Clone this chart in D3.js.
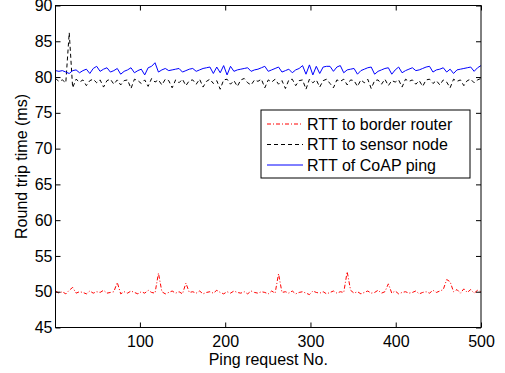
<!DOCTYPE html>
<html>
<head>
<meta charset="utf-8">
<script src="https://cdn.jsdelivr.net/npm/d3@7/dist/d3.min.js"></script>
<style>
  html, body { margin: 0; padding: 0; background: #fff; }
  svg { display: block; font-family: "Liberation Sans", Arial, sans-serif; }
</style>
</head>
<body>
<div id="chart"></div>
<script>
// RTT readings sampled about every 4th ping request
const coapRtt = [
  80.9, 80.8, 80.9, 80.7, 80.5, 80.9, 81.0, 80.6, 80.9, 81.1, 80.5, 81.2, 81.5, 80.8, 81.1, 81.3,
  80.7, 80.9, 81.2, 80.4, 80.8, 81.0, 81.3, 80.6, 80.9, 81.1, 80.3, 81.3, 81.5, 82.0, 80.7, 81.0,
  81.2, 80.9, 81.0, 81.1, 81.2, 80.7, 80.9, 81.1, 81.2, 80.8, 81.0, 81.2, 81.3, 81.4, 80.5, 81.4,
  80.6, 81.6, 80.3, 81.5, 80.8, 81.0, 81.1, 81.2, 81.3, 80.8, 81.0, 81.1, 81.3, 81.5, 80.8, 81.0,
  81.2, 81.4, 80.7, 80.9, 81.1, 80.6, 81.0, 81.2, 81.6, 80.4, 81.7, 80.3, 81.5, 80.5, 81.4, 81.5,
  81.5, 80.8, 81.4, 81.6, 80.6, 81.0, 81.1, 81.2, 80.4, 80.9, 81.1, 81.3, 81.4, 80.4, 80.8, 81.0,
  81.2, 81.3, 80.4, 81.0, 81.4, 80.6, 80.9, 81.1, 81.3, 80.9, 81.0, 81.2, 81.4, 81.5, 80.7, 81.0,
  81.1, 81.3, 80.7, 81.1, 80.5, 81.0, 81.1, 81.2, 81.3, 81.4, 80.8, 81.3, 81.6
];
const sensorRtt = [
  79.8, 79.4, 79.6, 79.2, 86.2, 78.5, 79.7, 79.3, 79.6, 78.8, 79.5, 79.7, 79.2, 79.6, 78.6, 79.5,
  79.7, 79.0, 79.6, 78.9, 79.5, 79.6, 78.4, 79.7, 79.5, 79.1, 79.6, 78.7, 79.8, 79.3, 79.6, 78.9,
  79.7, 79.5, 78.5, 79.6, 79.2, 79.7, 78.8, 79.5, 79.6, 79.0, 79.7, 78.6, 79.4, 79.7, 79.1, 79.5,
  78.3, 79.6, 79.7, 79.0, 79.5, 78.7, 79.6, 79.8, 79.2, 78.9, 79.6, 79.4, 79.7, 78.5, 79.6, 79.3,
  79.7, 79.0, 79.5, 78.4, 79.6, 79.7, 78.8, 79.5, 79.6, 78.3, 79.7, 79.2, 79.6, 78.6, 79.5, 79.7,
  79.1, 78.5, 79.6, 79.4, 79.7, 78.9, 79.6, 79.5, 78.7, 79.6, 79.2, 79.7, 78.4, 79.5, 79.6, 79.0,
  79.7, 78.8, 79.5, 79.3, 79.6, 78.6, 79.7, 79.4, 79.6, 79.0, 79.5, 78.7, 79.6, 79.7, 79.1, 79.5,
  78.9, 79.6, 79.3, 78.5, 79.7, 79.4, 79.6, 78.8, 79.5, 79.7, 79.2, 79.6, 79.8
];
const routerRtt = [
  50.1, 49.8, 50.0, 49.7, 50.2, 50.6, 49.8, 50.0, 49.9, 49.7, 50.1, 49.8, 50.0, 49.9, 50.2, 49.8,
  49.9, 50.0, 51.3, 49.7, 50.0, 49.8, 50.1, 49.9, 49.7, 50.0, 49.8, 50.2, 49.9, 49.8, 52.6, 50.0,
  49.7, 49.9, 50.1, 49.8, 50.0, 49.7, 51.2, 49.9, 50.0, 49.8, 50.1, 49.7, 49.9, 50.0, 49.8, 50.2,
  49.9, 49.7, 50.0, 49.8, 50.1, 49.9, 49.8, 50.0, 49.7, 50.1, 49.9, 49.8, 50.0, 49.9, 49.7, 50.1,
  49.8, 52.5, 49.9, 50.0, 49.8, 50.1, 49.7, 49.9, 50.0, 49.8, 49.6, 50.1, 49.9, 49.8, 50.0, 49.7,
  49.9, 50.1, 49.8, 50.0, 49.9, 52.8, 50.2, 49.8, 50.0, 49.7, 49.9, 50.1, 49.8, 49.9, 50.2, 49.8,
  50.0, 51.1, 49.8, 50.1, 49.7, 49.9, 50.0, 49.8, 49.9, 50.1, 49.7, 49.9, 50.0, 49.8, 50.2, 49.9,
  50.1, 50.3, 51.7, 51.4, 50.0, 50.3, 49.8, 50.4, 49.9, 50.3, 49.8, 50.2, 50.0
];

const xTicks = [100, 200, 300, 400, 500];
const yTicks = [45, 50, 55, 60, 65, 70, 75, 80, 85, 90];

const series = [
  { label: 'RTT to border router', values: routerRtt, color: '#ff0000', dash: '4,2,1,2' },
  { label: 'RTT to sensor node', values: sensorRtt, color: '#000000', dash: '4,3' },
  { label: 'RTT of CoAP ping', values: coapRtt, color: '#0000ff', dash: null }
];

const width = 505, height = 373;
const margin = { top: 5.5, right: 24, bottom: 45.5, left: 55.5 };
const innerW = width - margin.left - margin.right;
const innerH = height - margin.top - margin.bottom;
const fontSize = '16px';

const svg = d3.select('#chart').append('svg')
  .attr('width', width)
  .attr('height', height);

const g = svg.append('g').attr('transform', `translate(${margin.left},${margin.top})`);

const x = d3.scaleLinear().domain([1, 500]).range([0, innerW]);
const y = d3.scaleLinear().domain([45, 90]).range([innerH, 0]);

g.append('defs').append('clipPath').attr('id', 'plot')
  .append('rect').attr('width', innerW).attr('height', innerH);

// ping number for each sample, spread evenly over 1..500
const pingOf = (i, n) => 1 + i * 499 / (n - 1);

const line = d3.line()
  .x(d => x(d.ping))
  .y(d => y(d.rtt));

series.forEach(s => {
  const pts = s.values.map((v, i) => ({ ping: pingOf(i, s.values.length), rtt: v }));
  g.append('path')
    .datum(pts)
    .attr('clip-path', 'url(#plot)')
    .attr('fill', 'none')
    .attr('stroke', s.color)
    .attr('stroke-width', 1)
    .attr('stroke-dasharray', s.dash)
    .attr('d', line);
});

// axes, ticks pointing inward like matlab
const tickLen = 5;
const styleAxis = sel => {
  sel.select('.domain').remove();
  sel.selectAll('line').attr('stroke', '#000');
  sel.selectAll('text').style('font-size', fontSize).attr('fill', '#000');
};

g.append('g')
  .attr('transform', `translate(0,${innerH})`)
  .call(d3.axisBottom(x).tickValues(xTicks).tickSizeInner(-tickLen).tickSizeOuter(0).tickPadding(8))
  .call(styleAxis);
g.append('g')
  .call(d3.axisTop(x).tickValues(xTicks).tickSizeInner(-tickLen).tickSizeOuter(0).tickFormat(''))
  .call(styleAxis);
g.append('g')
  .call(d3.axisLeft(y).tickValues(yTicks).tickSizeInner(-tickLen).tickSizeOuter(0).tickPadding(3))
  .call(styleAxis);
g.append('g')
  .attr('transform', `translate(${innerW},0)`)
  .call(d3.axisRight(y).tickValues(yTicks).tickSizeInner(-tickLen).tickSizeOuter(0).tickFormat(''))
  .call(styleAxis);

g.append('rect')
  .attr('width', innerW)
  .attr('height', innerH)
  .attr('fill', 'none')
  .attr('stroke', '#000')
  .attr('stroke-width', 1);

// axis titles
svg.append('text')
  .attr('x', margin.left + innerW / 2)
  .attr('y', 365)
  .attr('text-anchor', 'middle')
  .style('font-size', fontSize)
  .text('Ping request No.');

svg.append('text')
  .attr('transform', `translate(27,${margin.top + innerH / 2}) rotate(-90)`)
  .attr('text-anchor', 'middle')
  .style('font-size', fontSize)
  .text('Round trip time (ms)');

// legend
const legend = svg.append('g').attr('transform', 'translate(261,110)');
legend.append('rect')
  .attr('width', 209)
  .attr('height', 68)
  .attr('fill', '#fff')
  .attr('stroke', '#000');

series.forEach((s, i) => {
  const cy = 14 + i * 20.5;
  legend.append('line')
    .attr('x1', 6).attr('x2', 42)
    .attr('y1', cy).attr('y2', cy)
    .attr('stroke', s.color)
    .attr('stroke-dasharray', s.dash);
  legend.append('text')
    .attr('x', 46)
    .attr('y', cy)
    .attr('dy', '0.35em')
    .style('font-size', fontSize)
    .text(s.label);
});
</script>
</body>
</html>
